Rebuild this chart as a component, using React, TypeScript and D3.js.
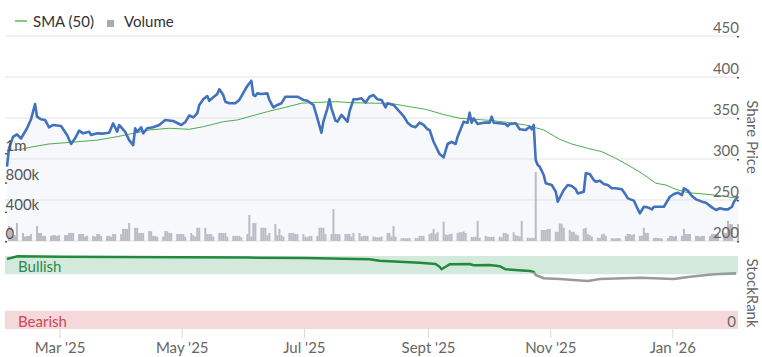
import React from "react";
import * as d3 from "d3";

const W = 762;
const H = 357;

// Share price (pence) – [date, close]
const priceDates: string[] = [
"2025-02-02","2025-02-03","2025-02-05","2025-02-07","2025-02-09","2025-02-12","2025-02-14","2025-02-16","2025-02-17","2025-02-19","2025-02-21","2025-02-23","2025-02-25",
"2025-03-01","2025-03-04","2025-03-06","2025-03-08","2025-03-10","2025-03-12","2025-03-15","2025-03-16","2025-03-19","2025-03-22","2025-03-25","2025-03-27","2025-03-29","2025-03-30",
"2025-04-02","2025-04-04","2025-04-06","2025-04-07","2025-04-08","2025-04-10","2025-04-11","2025-04-13","2025-04-16","2025-04-19","2025-04-22","2025-04-26","2025-04-30",
"2025-05-02","2025-05-04","2025-05-06","2025-05-08","2025-05-09","2025-05-11","2025-05-13","2025-05-14","2025-05-16","2025-05-18","2025-05-19","2025-05-21","2025-05-22","2025-05-24","2025-05-27","2025-05-29",
"2025-06-01","2025-06-02","2025-06-04","2025-06-05","2025-06-06","2025-06-07","2025-06-09","2025-06-12","2025-06-13","2025-06-15","2025-06-17","2025-06-19","2025-06-21","2025-06-24","2025-06-27","2025-06-30",
"2025-07-02","2025-07-05","2025-07-07","2025-07-09","2025-07-10","2025-07-12","2025-07-13","2025-07-14","2025-07-16","2025-07-17","2025-07-19","2025-07-22","2025-07-23","2025-07-25","2025-07-27","2025-07-29","2025-07-31",
"2025-08-02","2025-08-04","2025-08-06","2025-08-08","2025-08-10","2025-08-11","2025-08-14","2025-08-16","2025-08-19","2025-08-21","2025-08-23","2025-08-25","2025-08-27","2025-08-29","2025-08-31",
"2025-09-01","2025-09-03","2025-09-05","2025-09-06","2025-09-08","2025-09-10","2025-09-12","2025-09-14","2025-09-15","2025-09-17","2025-09-18","2025-09-20","2025-09-21","2025-09-22","2025-09-23","2025-09-25","2025-09-28",
"2025-10-01","2025-10-02","2025-10-03","2025-10-06","2025-10-09","2025-10-10","2025-10-11","2025-10-14","2025-10-16","2025-10-19","2025-10-21","2025-10-22","2025-10-23","2025-10-24","2025-10-25","2025-10-26","2025-10-28","2025-10-29",
"2025-11-01","2025-11-03","2025-11-04","2025-11-07","2025-11-09","2025-11-11","2025-11-13","2025-11-14","2025-11-17","2025-11-18","2025-11-20","2025-11-22","2025-11-23","2025-11-25","2025-11-27","2025-11-29",
"2025-12-01","2025-12-03","2025-12-06","2025-12-08","2025-12-09","2025-12-12","2025-12-13","2025-12-15","2025-12-17","2025-12-19","2025-12-21","2025-12-22","2025-12-27","2025-12-30",
"2026-01-01","2026-01-03","2026-01-05","2026-01-06","2026-01-08","2026-01-10","2026-01-12","2026-01-15","2026-01-17","2026-01-20","2026-01-22","2026-01-24","2026-01-26","2026-01-28","2026-01-30","2026-01-31",
"2026-02-01","2026-02-02"
];
const priceValues: number[] = [
290.6,313,327,330,325,337.5,348.4,367,351.6,348.4,347.6,338.7,341.5,
340.2,329.3,318.3,325.2,334.5,331.3,333.3,329.3,331.3,331,332,343.5,333.3,341.5,
333,323,317,337.5,333,338.7,331.3,337.5,338.7,341.5,347.6,346.3,341.5,
345,353,350.8,355.7,365.9,372.8,376.8,371,375.2,379.3,385,378,369.9,367.9,367.9,372,
385,389,395.5,378,376.8,380,379.3,380,372,363,365.9,367.9,376,376,376,372,
371,365.9,349.6,332,346,361.8,372.8,361.8,346.7,345.5,353.7,345.5,357.7,372.8,372.8,374,368.7,
376,378,372.8,372,363,368,366,360.6,352.4,344.3,340.2,338.7,344.3,341.5,336.2,
335.4,321.1,311,306,302,318.3,321,318.3,327.2,339.4,345.5,344.3,356.5,344.3,349.6,342.7,344.3,
344.3,351.6,344.3,343.5,342.7,340.2,342.7,343.5,336.2,335.4,339.4,336.2,341.5,298.8,292.7,290.6,280.5,270.4,
268.3,260.2,248,262.2,268.3,267,263,258,260.2,282.6,281.7,274.4,272.4,273.6,269.5,268.3,
264.3,264.3,263,256,252,249.2,243.9,233.7,241.8,241,238.6,241.8,241.8,254,
257.3,258.9,256,264.3,261.4,254.9,250.8,248,246.7,241,237.8,239.9,238.6,238.6,241.8,248,
250.8,254.9
];

// 50-day simple moving average
const smaDates: string[] = [
"2025-02-02","2025-02-09","2025-02-15","2025-02-23","2025-03-04","2025-03-19","2025-03-29","2025-04-06","2025-04-14","2025-04-24",
"2025-05-04","2025-05-11","2025-05-21","2025-05-28","2025-06-04","2025-06-12","2025-06-21","2025-06-29","2025-07-07","2025-07-16",
"2025-07-24","2025-08-05","2025-08-12","2025-08-22","2025-08-30","2025-09-07","2025-09-16","2025-09-24","2025-10-03","2025-10-11",
"2025-10-19","2025-10-28","2025-11-05","2025-11-11","2025-11-19","2025-11-26","2025-12-03","2025-12-09","2025-12-16","2025-12-23",
"2025-12-28","2026-01-02","2026-01-08","2026-01-16","2026-01-25","2026-02-02"
];
const smaValues: number[] = [
310,311.8,315,318.3,320,323,327.2,331.3,335.4,337.5,
336.2,339.4,345.5,347.6,352.4,357.7,363,368,369,369.9,
368.7,368,368,363.8,360.6,354.9,349.6,348.4,346.7,344.3,
341.5,335.4,324,318.3,313,308.9,300.8,292.7,282.6,270.4,
268.3,263,258.9,257.3,254.9,252
];

// Daily volume in thousands, one value per weekday from 3 Feb 2025
const volumeK: number[] = [
205,190,60,80,245, 110,60,70,70,95, 205,110,110,70,70, 70,80,80,70,80,
80,80,110,110,110, 95,95,95,60,70, 70,60,95,95,70, 70,70,60,95,95,
95,165,165,165,245, 180,180,110,110,110, 135,135,70,70,60, 60,135,135,110,110,
95,95,95,95,60, 110,80,60,180,180, 180,95,95,95,60, 110,110,110,110,60,
70,70,70,70,50, 95,355,60,245,245, 180,180,180,80,110, 230,80,165,80,60,
110,110,110,95,95, 95,60,50,70,70, 70,180,180,180,95, 95,435,95,95,95,
95,95,95,60,110, 110,60,70,70,70, 60,55,50,50,60, 110,110,60,205,60,
40,40,35,40,40, 40,40,70,70,70, 95,110,165,95,120, 265,90,80,95,100,
110,120,120,130,110, 55,55,60,275,45, 70,60,55,55,60, 60,50,110,110,95,
120,80,70,60,275, 45,40,45,40,940, 150,150,150,165,165, 125,125,240,235,180,
150,125,125,90,80, 170,180,95,80,60, 45,40,90,100,70, 40,35,35,40,35,
70,95,95,80,95, 70,70,180,110,110, 40,45,40,40,35, 40,70,70,60,70,
70,165,95,95,95, 70,70,60,70,70, 70,95,95,95,110, 110,110,275,230,230,
230
];

// StockRank
const rankDates: string[] = [
"2025-02-02","2025-02-07","2025-03-01","2025-03-30","2025-05-01","2025-06-03","2025-07-01","2025-08-02","2025-08-07","2025-08-17",
"2025-08-27","2025-09-04","2025-09-06","2025-09-07","2025-09-09","2025-09-11","2025-09-21","2025-09-23","2025-10-01","2025-10-06",
"2025-10-09","2025-10-21","2025-10-23","2025-10-24","2025-10-28","2025-11-05","2025-11-19","2025-11-25","2025-12-15","2026-01-01",
"2026-01-09","2026-01-21","2026-02-01"
];
const rankValues: number[] = [
95.9,99.5,99,98.5,98.2,97.8,97.3,95.5,93.6,92.2,
90.8,89,85.3,81.8,85.3,88.6,89,87.3,87.7,86,
81.8,79.5,78,74,69.5,68.5,65.8,68.5,70.3,68.5,
71.6,74.9,76
];

const priceTicks = [200, 250, 300, 350, 400, 450];
const volumeTicks = [0, 400000, 800000, 1200000];
const volumeTickLabels = ["0", "400k", "800k", "1m"];
const monthTicks = ["2025-03-01", "2025-05-01", "2025-07-01", "2025-09-01", "2025-11-01", "2026-01-01"];
const monthLabels = ["Mar '25", "May '25", "Jul '25", "Sept '25", "Nov '25", "Jan '26"];

const parse = d3.timeParse("%Y-%m-%d");
const noon = (s: string) => {
  const d = parse(s) as Date;
  return new Date(d.getFullYear(), d.getMonth(), d.getDate(), 12);
};

export default function App() {
  const x = d3.scaleTime()
    .domain([new Date(2025, 1, 1, 12), new Date(2026, 1, 2, 12)])
    .range([5, 738]);
  const yP = d3.scaleLinear().domain([200, 450]).range([241, 36]);
  const yV = d3.scaleLinear().domain([0, 1200000]).range([241, 153]);
  const yR = d3.scaleLinear().domain([0, 100]).range([329, 256]);

  const price = priceDates.map((d, i) => ({ t: noon(d), v: priceValues[i] }));
  const sma = smaDates.map((d, i) => ({ t: noon(d), v: smaValues[i] }));
  const rank = rankDates.map((d, i) => ({ t: noon(d), v: rankValues[i] }));

  // trading days (weekdays) from 3 Feb 2025
  const tradingDays: Date[] = [];
  {
    let d = new Date(2025, 1, 3, 12);
    while (tradingDays.length < volumeK.length) {
      const wd = d.getDay();
      if (wd !== 0 && wd !== 6) tradingDays.push(new Date(d));
      d = d3.timeDay.offset(d, 1);
    }
  }

  const priceLine = d3.line<{ t: Date; v: number }>().x(d => x(d.t)).y(d => yP(d.v));
  const priceArea = d3.area<{ t: Date; v: number }>().x(d => x(d.t)).y0(241).y1(d => yP(d.v));
  const rankLine = d3.line<{ t: Date; v: number }>().x(d => x(d.t)).y(d => yR(d.v));

  const gray = "#666666";
  const font = "Lato, 'Open Sans', sans-serif";
  const fs = 15;
  const threshold = 77;

  return (
    <div style={{ position: "absolute", left: 0, top: 0 }}>
      <svg width={W} height={H} style={{ display: "block", fontFamily: font }}>
        <rect x={0} y={0} width={W} height={H} fill="#ffffff" />
        <defs>
          <clipPath id="rankHi">
            <rect x={0} y={0} width={W} height={yR(threshold)} />
          </clipPath>
          <clipPath id="rankLo">
            <rect x={0} y={yR(threshold)} width={W} height={H} />
          </clipPath>
        </defs>

        {/* legend */}
        <line x1={15} x2={27} y1={21} y2={21} stroke="#5cb85c" strokeWidth={1.5} />
        <text x={33} y={26.5} fontSize={fs} fill="#333">SMA (50)</text>
        <rect x={107} y={20} width={7} height={7} fill="#a9abb2" />
        <text x={124} y={26.5} fontSize={fs} fill="#333">Volume</text>

        {/* price area */}
        <path d={priceArea(price) || ""} fill="#f6f8fc" />

        {/* gridlines */}
        {priceTicks.map(t => (
          <line key={"g" + t} x1={5} x2={740} y1={yP(t)} y2={yP(t)} stroke="#e3e3e3" strokeWidth={1} />
        ))}

        {/* volume bars */}
        {tradingDays.map((d, i) => {
          const h = 241 - yV(volumeK[i] * 1000);
          return <rect key={"v" + i} x={x(d) - 1} y={241 - h} width={2} height={h} fill="#b9bcc3" />;
        })}

        {/* SMA */}
        <path d={priceLine(sma) || ""} fill="none" stroke="#4cae4c" strokeWidth={1} />
        {/* price */}
        <path d={priceLine(price) || ""} fill="none" stroke="#4271bd" strokeWidth={2.6} strokeLinejoin="round" />

        {/* price axis labels */}
        {priceTicks.map(t => (
          <g key={"p" + t}>
            <text x={739} y={yP(t) - 3.5} fontSize={fs} fill={gray} textAnchor="end">{t}</text>
            <rect x={737} y={yP(t)} width={2} height={1.5} fill="#555" />
          </g>
        ))}
        <text transform={`translate(747,137) rotate(90)`} fontSize={fs} fill={gray} textAnchor="middle">Share Price</text>

        {/* volume axis labels */}
        {volumeTicks.map((t, i) => (
          <g key={"va" + t}>
            <text x={5.5} y={yV(t) - 2} fontSize={fs} fill="#555">{volumeTickLabels[i]}</text>
            <rect x={5} y={yV(t)} width={2} height={1.5} fill="#555" />
          </g>
        ))}

        {/* StockRank panel */}
        <rect x={5} y={yR(100)} width={733} height={yR(75) - yR(100)} fill="#d3e9dc" />
        <rect x={5} y={yR(25)} width={733} height={yR(0) - yR(25)} fill="#f5d8da" />
        <text x={18} y={272} fontSize={fs} fill="#2b8a4c">Bullish</text>
        <text x={18} y={327} fontSize={fs} fill="#d2445c">Bearish</text>
        <text x={736} y={327} fontSize={fs} fill={gray} textAnchor="end">0</text>
        <path d={rankLine(rank) || ""} fill="none" stroke="#218a3c" strokeWidth={2.5} clipPath="url(#rankHi)" strokeLinejoin="round" />
        <path d={rankLine(rank) || ""} fill="none" stroke="#9a9a9a" strokeWidth={2.5} clipPath="url(#rankLo)" strokeLinejoin="round" />
        <text transform={`translate(747,293) rotate(90)`} fontSize={fs} fill={gray} textAnchor="middle">StockRank</text>

        {/* x axis */}
        {monthTicks.map((m, i) => {
          const px = x(parse(m) as Date);
          return (
            <g key={"m" + m}>
              <line x1={px} x2={px} y1={329} y2={338} stroke="#d8d8d8" strokeWidth={1} />
              <text x={px} y={353} fontSize={fs} fill={gray} textAnchor="middle">{monthLabels[i]}</text>
            </g>
          );
        })}
      </svg>
    </div>
  );
}
